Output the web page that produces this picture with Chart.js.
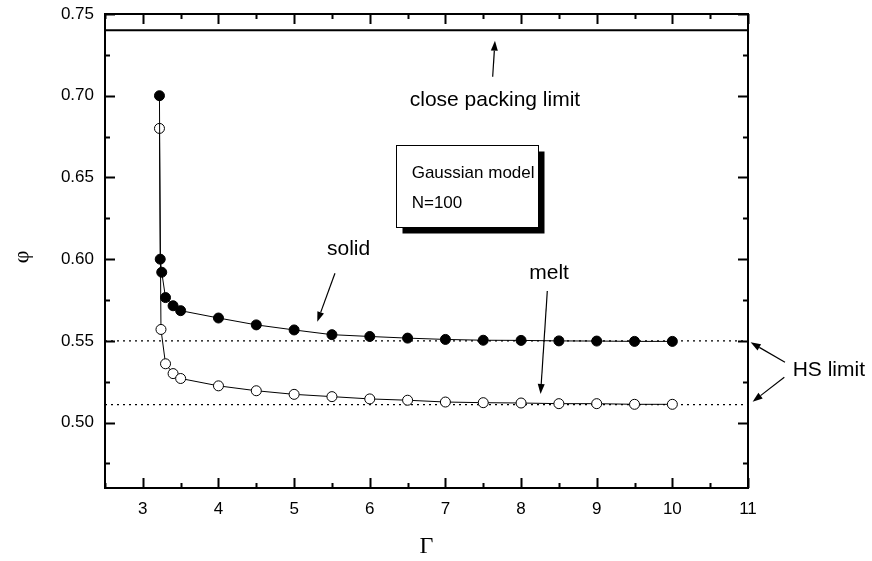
<!DOCTYPE html>
<html>
<head>
<title>Gaussian model N=100</title>
<script src="https://cdn.jsdelivr.net/npm/chart.js"></script>
<style>
  body { margin: 0; background: #fff; }
</style>
</head>
<body>
<canvas id="chart" width="872" height="561"></canvas>
<script>
// values
var solidGamma = [3.22, 3.23, 3.25, 3.3, 3.4, 3.5, 4, 4.5, 5, 5.5, 6, 6.5, 7, 7.5, 8, 8.5, 9, 9.5, 10];
var solidPhi   = [0.700, 0.600, 0.592, 0.5765, 0.5715, 0.5685, 0.564, 0.5598, 0.5567, 0.5538, 0.5527, 0.5517, 0.5509, 0.5504, 0.5503, 0.5500, 0.5499, 0.5497, 0.5497];
var meltGamma  = [3.22, 3.24, 3.3, 3.4, 3.5, 4, 4.5, 5, 5.5, 6, 6.5, 7, 7.5, 8, 8.5, 9, 9.5, 10];
var meltPhi    = [0.680, 0.557, 0.536, 0.530, 0.527, 0.5225, 0.5195, 0.5173, 0.5159, 0.5145, 0.5137, 0.5126, 0.5122, 0.5120, 0.5116, 0.5116, 0.5112, 0.5112];
var hsLimits = [0.55, 0.511];
var closePacking = 0.74;
var xTicks = [3, 4, 5, 6, 7, 8, 9, 10, 11];
var yTicks = [0.50, 0.55, 0.60, 0.65, 0.70, 0.75];
var xRange = [2.5, 11];
var yRange = [0.46, 0.75];

function pts(xs, ys) {
    return xs.map(function (x, i) { return { x: x, y: ys[i] }; });
}
function hline(y) {
    return [{ x: xRange[0], y: y }, { x: xRange[1], y: y }];
}

// annotations, in data coordinates
var labels = [
    { text: 'close packing limit', x: 7.655, y: 0.6937, size: 21, align: 'center' },
    { text: 'solid', x: 5.72, y: 0.6026, size: 21, align: 'center' },
    { text: 'melt', x: 8.37, y: 0.5877, size: 21, align: 'center' },
    { text: 'HS limit', x: 11.59, y: 0.5285, size: 21, align: 'left' }
];
var arrows = [
    [7.625, 0.7116, 7.655, 0.7337],
    [5.540, 0.5914, 5.306, 0.5617],
    [8.347, 0.5805, 8.258, 0.5175],
    [11.489, 0.5369, 11.035, 0.5491],
    [11.480, 0.5277, 11.061, 0.5128]
];
var box = { x1: 6.343, y1: 0.6698, x2: 8.219, y2: 0.6197, lines: ['Gaussian model', 'N=100'], tx: 6.554, ty: [0.6497, 0.6311] };

var decor = {
    id: 'decor',
    afterDatasetsDraw: function (chart) {
        var ctx = chart.ctx, a = chart.chartArea;
        var xs = chart.scales.x, ys = chart.scales.y;
        ctx.save();
        ctx.strokeStyle = '#000';
        ctx.fillStyle = '#000';

        // frame
        ctx.lineWidth = 2;
        ctx.strokeRect(a.left, a.top, a.right - a.left, a.bottom - a.top);

        // inward ticks on all four sides
        function xt(v, len) {
            var p = Math.round(xs.getPixelForValue(v)) + 0.5;
            ctx.beginPath();
            ctx.moveTo(p, a.bottom); ctx.lineTo(p, a.bottom - len);
            ctx.moveTo(p, a.top); ctx.lineTo(p, a.top + len);
            ctx.stroke();
        }
        function yt(v, len) {
            var p = Math.round(ys.getPixelForValue(v)) + 0.5;
            ctx.beginPath();
            ctx.moveTo(a.left, p); ctx.lineTo(a.left + len, p);
            ctx.moveTo(a.right, p); ctx.lineTo(a.right - len, p);
            ctx.stroke();
        }
        ctx.lineWidth = 2;
        xTicks.forEach(function (v) { xt(v, 10); xt(v - 0.5, 5); });
        yTicks.forEach(function (v) { yt(v, 10); yt(v - 0.025, 5); });

        // axis titles
        ctx.font = '24px "Liberation Serif"';
        ctx.textAlign = 'center';
        ctx.textBaseline = 'middle';
        ctx.fillText('\u0393', (a.left + a.right) / 2, 547);
        ctx.save();
        ctx.translate(22, (a.top + a.bottom) / 2 + 6);
        ctx.rotate(-Math.PI / 2);
        ctx.font = '22px "Liberation Serif"';
        ctx.fillText('\u03c6', 0, 0);
        ctx.restore();

        // text labels
        ctx.textBaseline = 'alphabetic';
        labels.forEach(function (l) {
            ctx.font = l.size + 'px "Liberation Sans"';
            ctx.textAlign = l.align;
            ctx.fillText(l.text, xs.getPixelForValue(l.x), ys.getPixelForValue(l.y));
        });

        // arrows
        ctx.lineWidth = 1.2;
        arrows.forEach(function (r) {
            var x0 = xs.getPixelForValue(r[0]), y0 = ys.getPixelForValue(r[1]);
            var x1 = xs.getPixelForValue(r[2]), y1 = ys.getPixelForValue(r[3]);
            var ang = Math.atan2(y1 - y0, x1 - x0);
            var hl = 10, hw = 3.5;
            var bx = x1 - hl * Math.cos(ang), by = y1 - hl * Math.sin(ang);
            ctx.beginPath();
            ctx.moveTo(x0, y0); ctx.lineTo(bx, by);
            ctx.stroke();
            ctx.beginPath();
            ctx.moveTo(x1, y1);
            ctx.lineTo(bx + hw * Math.sin(ang), by - hw * Math.cos(ang));
            ctx.lineTo(bx - hw * Math.sin(ang), by + hw * Math.cos(ang));
            ctx.closePath();
            ctx.fill();
        });

        // legend box with drop shadow
        var bx1 = Math.round(xs.getPixelForValue(box.x1)) + 0.5, by1 = Math.round(ys.getPixelForValue(box.y1)) + 0.5;
        var bx2 = Math.round(xs.getPixelForValue(box.x2)) + 0.5, by2 = Math.round(ys.getPixelForValue(box.y2)) + 0.5;
        ctx.fillRect(bx1 + 6, by1 + 6, bx2 - bx1, by2 - by1);
        ctx.fillStyle = '#fff';
        ctx.fillRect(bx1, by1, bx2 - bx1, by2 - by1);
        ctx.lineWidth = 1;
        ctx.strokeRect(bx1, by1, bx2 - bx1, by2 - by1);
        ctx.fillStyle = '#000';
        ctx.font = '17px "Liberation Sans"';
        ctx.textAlign = 'left';
        box.lines.forEach(function (t, i) {
            ctx.fillText(t, xs.getPixelForValue(box.tx), ys.getPixelForValue(box.ty[i]));
        });
        ctx.restore();
    }
};

new Chart(document.getElementById('chart'), {
    type: 'scatter',
    data: {
        datasets: [
            {
                data: pts(solidGamma, solidPhi), showLine: true,
                borderColor: '#000', borderWidth: 1,
                pointRadius: 5, pointBackgroundColor: '#000', pointBorderColor: '#000', pointBorderWidth: 1
            },
            {
                data: pts(meltGamma, meltPhi), showLine: true,
                borderColor: '#000', borderWidth: 1,
                pointRadius: 5, pointBackgroundColor: '#fff', pointBorderColor: '#000', pointBorderWidth: 1
            },
            {
                data: hline(hsLimits[0]), showLine: true, borderColor: '#000', borderWidth: 1.2,
                borderDash: [2, 4], pointRadius: 0
            },
            {
                data: hline(hsLimits[1]), showLine: true, borderColor: '#000', borderWidth: 1.2,
                borderDash: [2, 4], pointRadius: 0
            },
            {
                data: hline(closePacking), showLine: true, borderColor: '#000', borderWidth: 2,
                pointRadius: 0
            }
        ]
    },
    options: {
        responsive: false,
        animation: false,
        layout: { padding: { left: 0, right: 124, top: 14, bottom: 0 } },
        plugins: { legend: { display: false }, tooltip: { enabled: false } },
        scales: {
            x: {
                type: 'linear', min: xRange[0], max: xRange[1],
                grid: { display: false, drawTicks: false },
                border: { display: false },
                afterBuildTicks: function (s) { s.ticks = xTicks.map(function (v) { return { value: v }; }); },
                afterFit: function (s) { s.height = 73; s.paddingLeft = 0; s.paddingRight = 0; },
                ticks: {
                    padding: 11, color: '#000', maxRotation: 0,
                    font: { family: 'Liberation Sans', size: 17 }
                }
            },
            y: {
                type: 'linear', min: yRange[0], max: yRange[1],
                grid: { display: false, drawTicks: false },
                border: { display: false },
                afterBuildTicks: function (s) { s.ticks = yTicks.map(function (v) { return { value: v }; }); },
                afterFit: function (s) { s.width = 105; s.paddingTop = 0; s.paddingBottom = 0; },
                ticks: {
                    padding: 11, color: '#000',
                    font: { family: 'Liberation Sans', size: 17 },
                    callback: function (v) { return Number(v).toFixed(2); }
                }
            }
        }
    },
    plugins: [decor]
});
</script>
</body>
</html>
